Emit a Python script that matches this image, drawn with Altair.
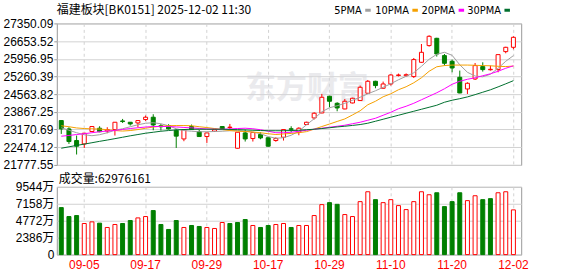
import altair as alt
import pandas as pd

title_text = "福建板块[BK0151] 2025-12-02 11:30"
volume_title = "成交量:62976161"
watermark = "东方财富"
ma_labels = ["5PMA", "10PMA", "20PMA", "30PMA"]
ma_fields = ["ma5", "ma10", "ma20", "ma30"]

dates = [
    "2025-09-02", "2025-09-03", "2025-09-04", "2025-09-05", "2025-09-08", "2025-09-09", "2025-09-10",
    "2025-09-11", "2025-09-12", "2025-09-15", "2025-09-16", "2025-09-17", "2025-09-18", "2025-09-19",
    "2025-09-22", "2025-09-23", "2025-09-24", "2025-09-25", "2025-09-26", "2025-09-29", "2025-09-30",
    "2025-10-09", "2025-10-10", "2025-10-13", "2025-10-14", "2025-10-15", "2025-10-16", "2025-10-17",
    "2025-10-20", "2025-10-21", "2025-10-22", "2025-10-23", "2025-10-24", "2025-10-27", "2025-10-28",
    "2025-10-29", "2025-10-30", "2025-10-31", "2025-11-03", "2025-11-04", "2025-11-05", "2025-11-06",
    "2025-11-07", "2025-11-10", "2025-11-11", "2025-11-12", "2025-11-13", "2025-11-14", "2025-11-17",
    "2025-11-18", "2025-11-19", "2025-11-20", "2025-11-21", "2025-11-24", "2025-11-25", "2025-11-26",
    "2025-11-27", "2025-11-28", "2025-12-01", "2025-12-02",
]

opens = [23524, 23194, 22737, 22604, 23092, 23222, 23115, 23170, 23509, 23458,
         23430, 23564, 23655, 23320, 23328, 23140, 22800, 23289, 23092, 22895,
         23104, 23289, 23250, 22434, 23037, 22816, 22974, 22848, 22738, 22867,
         23200, 23064, 23367, 23627, 23824, 24481, 24204, 23981, 24217, 24311,
         24599, 25071, 24796, 24965, 25300, 25290, 25256, 25818, 26476, 26763,
         26082, 25858, 25228, 24768, 25161, 25649, 25524, 25531, 26239, 26409]
highs = [23536, 23261, 22934, 23025, 23300, 23300, 23261, 23458, 23588, 23458,
         23524, 23721, 23773, 23391, 23380, 23194, 23170, 23367, 23163, 23037,
         23200, 23300, 23391, 23064, 23170, 23053, 23064, 22856, 22867, 23170,
         23300, 23261, 23477, 23851, 24571, 24500, 24245, 24374, 24422, 24902,
         25122, 25091, 25059, 25346, 25374, 25380, 25988, 26539, 26881, 26783,
         26145, 25925, 25492, 25032, 25791, 25818, 25689, 26121, 26429, 26842]
lows = [22997, 22604, 22187, 22446, 23072, 23064, 23025, 22934, 23430, 23328,
        23261, 23509, 23143, 23131, 23170, 22446, 22710, 23160, 22880, 22643,
        23080, 23160, 23131, 22422, 22698, 22698, 22789, 22500, 22690, 22737,
        23064, 22946, 23350, 23564, 23812, 24048, 23890, 23970, 24200, 24300,
        24580, 24796, 24780, 24902, 25260, 25260, 25201, 25800, 26436, 26043,
        25689, 25425, 24599, 24571, 25122, 25452, 25492, 25425, 26173, 26330]
closes = [23194, 22698, 22513, 23025, 23289, 23084, 23170, 23458, 23485, 23391,
          23524, 23655, 23351, 23280, 23194, 22910, 23170, 23170, 22895, 23037,
          23170, 23170, 23265, 23064, 22800, 23053, 22840, 22513, 22816, 23170,
          23180, 23222, 23458, 23812, 24441, 24284, 24020, 24284, 24402, 24835,
          25071, 24902, 24965, 25319, 25319, 25330, 25925, 26212, 26842, 26145,
          25779, 25594, 24611, 24992, 25689, 25531, 25543, 26121, 26409, 26802]

ma5 = [23241, 23143, 23045, 22966, 22927, 22966, 23045, 23143, 23202, 23281,
       23359, 23418, 23438, 23399, 23320, 23202, 23131, 23104, 23084, 23084,
       23092, 23104, 23123, 23131, 23104, 23072, 23005, 22895, 22828, 22848,
       22946, 23104, 23359, 23595, 23871, 24028, 24107, 24205, 24323, 24441,
       24579, 24697, 24835, 24973, 25130, 25268, 25406, 25661, 25937, 26134,
       26212, 26094, 25720, 25425, 25276, 25248, 25347, 25583, 25858, 26082]
ma10 = [23320, 23281, 23233, 23210, 23198, 23190, 23163, 23131, 23111, 23131,
        23170, 23222, 23269, 23300, 23320, 23328, 23328, 23320, 23281, 23249,
        23210, 23170, 23131, 23104, 23092, 23072, 23045, 23005, 22974, 22997,
        23017, 23045, 23088, 23186, 23289, 23387, 23489, 23588, 23745, 23910,
        24146, 24284, 24461, 24579, 24737, 24855, 25012, 25209, 25465, 25642,
        25689, 25709, 25709, 25709, 25701, 25689, 25681, 25661, 25650, 25669]
ma20 = [22907, 22938, 22974, 23005, 23045, 23084, 23111, 23135, 23174, 23210,
        23241, 23269, 23289, 23292, 23289, 23273, 23253, 23237, 23214, 23194,
        23182, 23182, 23194, 23210, 23222, 23202, 23163, 23104, 23045, 23045,
        23064, 23104, 23143, 23182, 23222, 23261, 23300, 23340, 23399, 23458,
        23536, 23615, 23733, 23851, 23989, 24087, 24205, 24343, 24481, 24619,
        24776, 24953, 25071, 25150, 25209, 25288, 25366, 25465, 25583, 25681]
ma30 = [22435, 22490, 22545, 22596, 22651, 22706, 22757, 22812, 22867, 22923,
        22974, 23025, 23064, 23104, 23131, 23155, 23171, 23182, 23182, 23182,
        23182, 23182, 23174, 23167, 23155, 23143, 23131, 23123, 23123, 23123,
        23131, 23143, 23163, 23182, 23210, 23241, 23273, 23300, 23332, 23367,
        23419, 23497, 23576, 23655, 23733, 23812, 23891, 23969, 24048, 24127,
        24245, 24325, 24385, 24455, 24545, 24640, 24735, 24850, 24970, 25095]

volumes = [6620, 5360, 5500, 4380, 4610, 4430, 3820, 4240, 4380, 4800,
           5170, 5360, 6200, 4240, 3540, 4800, 3820, 4100, 3960, 3820,
           3680, 4520, 4380, 4520, 4940, 4100, 3820, 4100, 4240, 4380,
           3820, 4100, 4100, 5500, 7040, 7320, 7080, 5640, 5360, 7460,
           8850, 7740, 7320, 7740, 6900, 6340, 7460, 8850, 8430, 8710,
           6760, 7460, 8710, 7600, 8290, 7740, 7880, 8710, 8850, 6298]
vol_up = [0, 0, 0, 1, 1, 0, 1, 1, 0, 0,
          1, 1, 0, 0, 0, 0, 1, 0, 0, 1,
          1, 1, 0, 0, 0, 1, 0, 0, 1, 1,
          0, 1, 1, 1, 1, 0, 0, 1, 1, 1,
          1, 0, 1, 1, 1, 1, 1, 1, 1, 0,
          0, 0, 0, 1, 1, 0, 0, 1, 1, 1]

y_ticks = [21777.55, 22474.12, 23170.69, 23867.25, 24563.82, 25260.39, 25956.95, 26653.52, 27350.09]
vol_ticks = [0, 2386, 4772, 7158, 9544]
x_label_dates = ["2025-09-05", "2025-09-17", "2025-09-29", "2025-10-17",
                 "2025-10-29", "2025-11-10", "2025-11-20", "2025-12-02"]

RED = "#ff0000"
GREEN = "#008000"
MA_COLORS = ["#a0a0a0", "#f5a000", "#ff00ff", "#006f2e"]
GRID = "#d2d2d2"
FONT = "Liberation Sans, Noto Sans CJK SC"
NARROW = "Liberation Sans Narrow, DejaVu Sans Condensed, Liberation Sans"
CJK = "Noto Sans CJK SC"

W, H1, H2 = 466, 142, 68

df = pd.DataFrame({"date": dates, "open": opens, "high": highs, "low": lows, "close": closes,
                   "ma5": ma5, "ma10": ma10, "ma20": ma20, "ma30": ma30})
df["body_lo"] = df[["open", "close"]].min(axis=1)
df["body_hi"] = df[["open", "close"]].max(axis=1)
vdf = pd.DataFrame({"date": dates, "vol": volumes, "up": vol_up})

xscale = alt.Scale(type="band", paddingInner=0, paddingOuter=0.3, align=0.14)


def xenc(show_labels):
    return alt.X("date:O", scale=xscale, title=None,
                 axis=alt.Axis(values=x_label_dates, grid=True, gridDash=[3, 3], gridColor=GRID,
                               labels=show_labels, ticks=False, domain=False,
                               labelExpr="slice(datum.value, 5)", labelColor=RED, labelFont=FONT,
                               labelFontSize=12, labelPadding=5, labelAngle=0))


yscale = alt.Scale(domain=[y_ticks[0], y_ticks[-1]], nice=False, zero=False)
yaxis = alt.Axis(values=y_ticks, format=".2f", title=None, grid=True, gridColor=GRID, domain=False,
                 tickSize=3, tickColor="#999999", labelPadding=1, labelFont=FONT, labelFontSize=12,
                 labelColor="#000000")

up_test = "datum.close >= datum.open"


def one(text):
    return alt.Chart(pd.DataFrame({"t": [text]}))


pin_tl = one("").mark_rect(opacity=0).encode(x=alt.value(-56), x2=alt.value(-55),
                                              y=alt.value(-22), y2=alt.value(-21))
pin_r = one("").mark_rect(opacity=0).encode(x=alt.value(W + 55), x2=alt.value(W + 56),
                                             y=alt.value(0), y2=alt.value(1))

wm = one(watermark).mark_text(font=CJK, fontSize=31, fontWeight="bold", color="#d6d6dc",
                              opacity=0.5, align="center", baseline="middle").encode(
    text="t:N", x=alt.value(251), y=alt.value(66))

wick = alt.Chart(df).mark_rule(strokeWidth=1).encode(
    x=xenc(False), y=alt.Y("low:Q", scale=yscale, axis=yaxis), y2="high:Q",
    stroke=alt.condition(up_test, alt.value(RED), alt.value(GREEN)))

body = alt.Chart(df).mark_bar(size=4, strokeWidth=1).encode(
    x=xenc(False), y=alt.Y("body_lo:Q", scale=yscale, axis=yaxis), y2="body_hi:Q",
    fill=alt.condition(up_test, alt.value("#ffffff"), alt.value(GREEN)),
    stroke=alt.condition(up_test, alt.value(RED), alt.value(GREEN)))

lines = alt.Chart(df).transform_fold(ma_fields, as_=["ma", "value"]).mark_line(strokeWidth=1).encode(
    x=xenc(False), y=alt.Y("value:Q", scale=yscale, axis=yaxis),
    color=alt.Color("ma:N", scale=alt.Scale(domain=ma_fields, range=MA_COLORS), legend=None))

title = one(title_text).mark_text(font=CJK, fontSize=12, color="#000000", align="left",
                                  baseline="alphabetic").encode(text="t:N", x=alt.value(0), y=alt.value(-9.7))

legend_layers = []
text_right = [306, 353.3, 399.7, 445.7]
for lab, col, xr in zip(ma_labels, MA_COLORS, text_right):
    legend_layers.append(one(lab).mark_text(font=NARROW, fontSize=11, color="#000000", align="right",
                                            baseline="alphabetic").encode(
        text="t:N", x=alt.value(xr), y=alt.value(-9.7)))
    legend_layers.append(one(lab).mark_rect(color=col).encode(
        x=alt.value(xr + 3.5), x2=alt.value(xr + 9), y=alt.value(-14.7), y2=alt.value(-11.7)))

top = alt.layer(pin_tl, pin_r, wm, wick, body, lines, title, *legend_layers).properties(width=W, height=H1)

vscale = alt.Scale(domain=[0, vol_ticks[-1]], nice=False)
vaxis = alt.Axis(values=vol_ticks, title=None, grid=True, gridColor=GRID, domain=False, ticks=False,
                 labelPadding=3, labelFont=FONT, labelFontSize=12, labelColor="#000000",
                 labelExpr="datum.value === 0 ? '0' : format(datum.value, 'd') + '万'")

vbars = alt.Chart(vdf).mark_bar(size=4, strokeWidth=1).encode(
    x=xenc(True), y=alt.Y("vol:Q", scale=vscale, axis=vaxis),
    fill=alt.condition("datum.up == 1", alt.value("#ffffff"), alt.value(GREEN)),
    stroke=alt.condition("datum.up == 1", alt.value(RED), alt.value(GREEN)))

vtitle = one(volume_title).mark_text(font=CJK, fontSize=12, color="#000000", align="left",
                                     baseline="alphabetic").encode(text="t:N", x=alt.value(2), y=alt.value(-4.3))
pin_b = one("").mark_rect(opacity=0).encode(x=alt.value(0), x2=alt.value(1),
                                             y=alt.value(H2 + 21), y2=alt.value(H2 + 22))

bottom = alt.layer(vbars, vtitle, pin_b).properties(width=W, height=H2)

chart = alt.vconcat(top, bottom, spacing=22, bounds="flush").properties(
    padding=0, background="white").configure_view(stroke="#999999", strokeWidth=1)

chart.save("out.html", embed_options={"renderer": "svg", "actions": False})
